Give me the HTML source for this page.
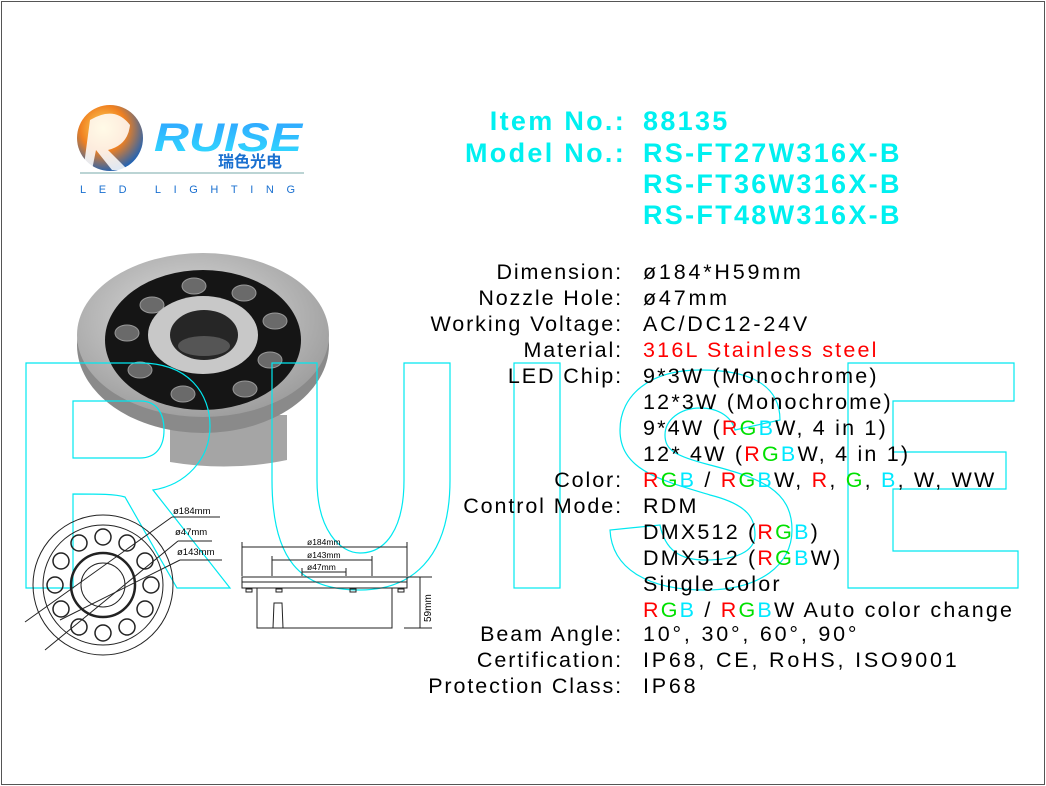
<!DOCTYPE html>
<html><head><meta charset="utf-8"><style>
html,body{margin:0;padding:0;background:#fff}
#p{position:relative;width:1046px;height:786px;overflow:hidden;background:#fff;font-family:"Liberation Sans",Arial,sans-serif}
.b{position:absolute;left:1px;top:1px;width:1042px;height:782px;border:1px solid #555}
.l{position:absolute;right:423px;text-align:right;white-space:nowrap;font-size:21.5px;color:#000;line-height:26px;letter-spacing:1.9px}
.v{position:absolute;left:643px;white-space:nowrap;font-size:21.5px;color:#000;line-height:26px;letter-spacing:2.2px}
.w{letter-spacing:2.8px}
.h{position:absolute;white-space:nowrap;font-weight:bold;font-size:27px;color:#00f0f0;line-height:32px;letter-spacing:2.3px}
.r{color:#f00}.g{color:#00e000}.c{color:#00e8ff}
</style></head><body><div id="p">
<div class="b"></div>
<svg width="1046" height="786" style="position:absolute;left:0;top:0">
<defs>
<radialGradient id="lg" cx="40%" cy="35%" r="70%"><stop offset="0" stop-color="#ffe060"/><stop offset=".5" stop-color="#f08020"/><stop offset="1" stop-color="#1060c0"/></radialGradient>
<linearGradient id="tg" x1="0" x2="0" y1="0" y2="1"><stop offset="0" stop-color="#30a0ff"/><stop offset="1" stop-color="#30e0ff"/></linearGradient>
<radialGradient id="mg" cx="45%" cy="40%" r="65%"><stop offset="0" stop-color="#e0e0e0"/><stop offset="1" stop-color="#9a9a9a"/></radialGradient>
</defs>
<!-- logo -->
<circle cx="110" cy="138" r="33" fill="url(#lg)"/>
<path d="M90,120 Q115,105 130,125 Q128,145 108,150 L128,170 L112,170 L96,150 L92,170 L84,165 Z" fill="#fff" opacity=".85"/>
<text x="154" y="151" font-family="Liberation Sans" font-weight="bold" font-style="italic" font-size="40" fill="url(#tg)" textLength="148" lengthAdjust="spacingAndGlyphs">RUISE</text>
<text x="218" y="167" font-family="Liberation Sans,Noto Sans CJK SC,sans-serif" font-weight="bold" font-size="16" fill="#1a70d0">瑞色光电</text>
<line x1="80" y1="173" x2="304" y2="173" stroke="#7aa" stroke-width="1"/>
<text x="80" y="193" font-family="Liberation Sans" font-size="11" fill="#1a70d0" letter-spacing="12.6">LED LIGHTING</text>
<!-- product -->
<path d="M170,415 L170,462 Q230,472 287,460 L287,415 Z" fill="#a5a5a5"/>
<ellipse cx="203" cy="345" rx="126" ry="88" fill="#8a8a8a"/>
<ellipse cx="203" cy="335" rx="126" ry="82" fill="url(#mg)"/>
<ellipse cx="203" cy="340" rx="98" ry="70" fill="#151515"/>
<g fill="#6a6a6a" stroke="#999" stroke-width="1">
<ellipse cx="194" cy="286" rx="12" ry="8"/><ellipse cx="244" cy="293" rx="12" ry="8"/><ellipse cx="275" cy="321" rx="12" ry="8"/><ellipse cx="270" cy="360" rx="12" ry="8"/><ellipse cx="245" cy="389" rx="12" ry="8"/><ellipse cx="183" cy="394" rx="12" ry="8"/><ellipse cx="140" cy="370" rx="12" ry="8"/><ellipse cx="127" cy="333" rx="12" ry="8"/><ellipse cx="152" cy="305" rx="12" ry="8"/></g>
<ellipse cx="203" cy="335" rx="55" ry="39" fill="#c8c8c8"/>
<ellipse cx="204" cy="335" rx="34" ry="25" fill="#262626"/>
<ellipse cx="204" cy="346" rx="26" ry="10" fill="#555"/>
<!-- watermark -->
<g fill="none" stroke="#00e8f0" stroke-width="1.2">
<path d="M26,363 L140,363 C190,363 210,395 210,426 C210,460 185,485 153,490 L230,588 L177,588 L125,497 C115,494 100,494 73,494 L73,588 L26,588 Z"/>
<path d="M73,401 L140,401 C158,401 164,415 164,430 C164,448 155,458 140,458 L73,458 Z"/>
<path d="M272,363 L317,363 L317,480 C317,530 340,553 360,553 C385,553 404,530 404,480 L404,363 L450,363 L450,480 C450,560 410,590 360,590 C300,590 272,560 272,480 Z"/>
<rect x="514" y="363" width="46" height="225"/>
<path d="M780,420 C780,385 750,370 700,370 C650,370 620,395 620,430 C620,470 660,480 710,495 C750,505 755,520 755,535 C755,552 735,560 705,560 C680,560 665,550 660,525 L610,530 C612,570 650,590 705,590 C760,590 792,565 792,530 C792,490 760,478 710,465 C675,456 665,450 665,435 C665,420 680,408 700,408 C720,408 732,418 735,430 Z"/>
<path d="M848,363 L1014,363 L1014,401 L893,401 L893,452 L1006,452 L1006,489 L893,489 L893,551 L1018,551 L1018,588 L848,588 Z"/>
</g>
<!-- top view drawing -->
<g fill="none" stroke="#222" stroke-width="1">
<circle cx="103" cy="585" r="70"/>
<circle cx="103" cy="585" r="60"/>
<circle cx="103" cy="585" r="32" stroke-width="2.5"/>
<circle cx="103" cy="585" r="22"/>
<g stroke-width="1.5">
<circle cx="103" cy="537" r="8"/><circle cx="127" cy="543" r="8"/><circle cx="145" cy="561" r="8"/><circle cx="151" cy="585" r="8"/><circle cx="145" cy="609" r="8"/><circle cx="127" cy="627" r="8"/><circle cx="103" cy="633" r="8"/><circle cx="79" cy="627" r="8"/><circle cx="61" cy="609" r="8"/><circle cx="55" cy="585" r="8"/><circle cx="61" cy="561" r="8"/><circle cx="79" cy="543" r="8"/></g>
<line x1="25" y1="622" x2="172" y2="517"/><line x1="45" y1="650" x2="178" y2="541"/><line x1="60" y1="620" x2="180" y2="560"/>
<line x1="172" y1="517" x2="220" y2="517"/><line x1="178" y1="541" x2="212" y2="541"/><line x1="180" y1="560" x2="222" y2="560"/>
</g>
<g font-family="Liberation Sans" font-size="9.5" fill="#000">
<text x="173" y="514">ø184mm</text><text x="175" y="535">ø47mm</text><text x="177" y="555">ø143mm</text></g>
<!-- side view -->
<g fill="none" stroke="#222" stroke-width="1">
<rect x="242" y="577" width="165" height="11"/>
<line x1="242" y1="582" x2="407" y2="582"/>
<path d="M257,588 L257,628 L392,628 L392,588"/>
<path d="M273,628 L274,603 L282,603 L283,628"/>
<line x1="242" y1="547" x2="407" y2="547"/><line x1="242" y1="542" x2="242" y2="576"/><line x1="407" y1="542" x2="407" y2="576"/>
<line x1="272" y1="560" x2="372" y2="560"/><line x1="272" y1="556" x2="272" y2="576"/><line x1="372" y1="556" x2="372" y2="576"/>
<line x1="302" y1="572" x2="346" y2="572"/><line x1="302" y1="568" x2="302" y2="576"/><line x1="346" y1="568" x2="346" y2="576"/>
<line x1="404" y1="577" x2="432" y2="577"/><line x1="404" y1="628" x2="432" y2="628"/><line x1="420" y1="577" x2="420" y2="628"/>
<rect x="246" y="589" width="6" height="3"/><rect x="276" y="589" width="6" height="3"/><rect x="350" y="589" width="6" height="3"/><rect x="398" y="589" width="6" height="3"/>
</g>
<g font-family="Liberation Sans" font-size="8.5" fill="#000">
<text x="307" y="545">ø184mm</text><text x="307" y="558">ø143mm</text><text x="307" y="570">ø47mm</text>
<text transform="translate(431,622) rotate(-90)" font-size="10">59mm</text></g>
</svg>
<div class="h" style="right:420px;top:105px">Item No.:</div>
<div class="h" style="left:643px;top:105px">88135</div>
<div class="h" style="right:420px;top:137px">Model No.:</div>
<div class="h" style="left:643px;top:137px">RS-FT27W316X-B</div>
<div class="h" style="left:643px;top:168px">RS-FT36W316X-B</div>
<div class="h" style="left:643px;top:199px">RS-FT48W316X-B</div>

<div class="l" style="top:259px">Dimension:</div><div class="v w" style="top:259px">ø184*H59mm</div>
<div class="l" style="top:285px">Nozzle Hole:</div><div class="v w" style="top:285px">ø47mm</div>
<div class="l" style="top:311px">Working Voltage:</div><div class="v w" style="top:311px">AC/DC12-24V</div>
<div class="l" style="top:337px">Material:</div><div class="v r" style="top:337px">316L Stainless steel</div>
<div class="l" style="top:363px">LED Chip:</div><div class="v" style="top:363px">9*3W (Monochrome)</div>
<div class="v" style="top:389px">12*3W (Monochrome)</div>
<div class="v" style="top:415px">9*4W (<span class="r">R</span><span class="g">G</span><span class="c">B</span>W, 4 in 1)</div>
<div class="v" style="top:441px">12* 4W (<span class="r">R</span><span class="g">G</span><span class="c">B</span>W, 4 in 1)</div>
<div class="l" style="top:467px">Color:</div><div class="v" style="top:467px"><span class="r">R</span><span class="g">G</span><span class="c">B</span> / <span class="r">R</span><span class="g">G</span><span class="c">B</span>W, <span class="r">R</span>, <span class="g">G</span>, <span class="c">B</span>, W, WW</div>
<div class="l" style="top:493px">Control Mode:</div><div class="v" style="top:493px">RDM</div>
<div class="v" style="top:519px">DMX512 (<span class="r">R</span><span class="g">G</span><span class="c">B</span>)</div>
<div class="v" style="top:545px">DMX512 (<span class="r">R</span><span class="g">G</span><span class="c">B</span>W)</div>
<div class="v" style="top:571px">Single color</div>
<div class="v" style="top:597px"><span class="r">R</span><span class="g">G</span><span class="c">B</span> / <span class="r">R</span><span class="g">G</span><span class="c">B</span>W Auto color change</div>
<div class="l" style="top:621px">Beam Angle:</div><div class="v w" style="top:621px">10°, 30°, 60°, 90°</div>
<div class="l" style="top:647px">Certification:</div><div class="v w" style="top:647px">IP68, CE, RoHS, ISO9001</div>
<div class="l" style="top:673px">Protection Class:</div><div class="v w" style="top:673px">IP68</div>
</div></body></html>
